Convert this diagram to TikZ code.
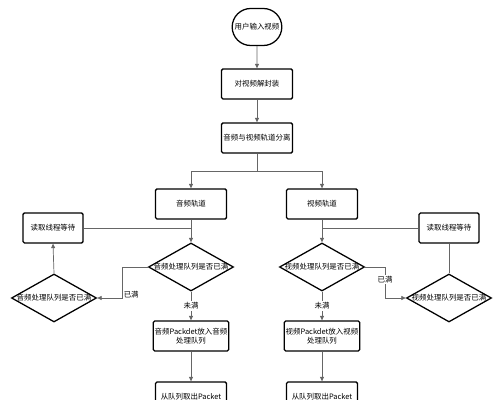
\documentclass[tikz,border=0pt]{standalone}
\usepackage{fontspec}
\setmainfont{Noto Sans CJK SC}
\usetikzlibrary{
  arrows.meta,      % 三角箭头
  shapes.geometric, % 菱形判断框
  shapes.misc       % 圆角起止框
}

\begin{document}
\begin{tikzpicture}[x=0.025cm, y=-0.025cm,
  >={Triangle[length=3.2pt, width=2.8pt]},
  font=\fontsize{5.3}{6.6}\selectfont,
  box/.style={draw, line width=0.9pt, rounded corners=1pt, align=center,
    minimum width=1.775cm, minimum height=0.75cm, inner sep=1pt},
  waitbox/.style={box, minimum width=1.5cm},
  terminal/.style={draw, line width=0.9pt, rounded rectangle,
    minimum width=1.475cm, minimum height=0.925cm},
  decision/.style={draw, line width=0.9pt, diamond, inner sep=0pt,
    minimum width=2.125cm, minimum height=1.2cm},
  flow/.style={draw=black!60, line width=0.5pt},
  lab/.style={fill=white, inner sep=0.8pt}]

  \clip (0,0) rectangle (500,400);

  % =========== 主干：输入与解封装 ===========
  \node[terminal] (start) at (257,27) {用户输入视频};
  \node[box] (demux) at (257,84) {对视频解封装};
  \node[box] (split) at (257,138) {音频与视频轨道分离};
  \draw[flow,->] (start) -- (demux);
  \draw[flow,->] (demux) -- (split);
  % 分叉点
  \coordinate (fork) at (257,171);
  \draw[flow] (split) -- (fork);

  % =========== 音频分支 ===========
  \node[box] (audio) at (191,204) {音频轨道};
  \node[waitbox] (waitA) at (53,228) {读取线程等待};
  \node[decision, label={center:音频处理队列是否已满}] (decA) at (191,267) {};
  \node[decision, label={center:音频处理队列是否已满}] (fullA) at (54,298) {};
  \node[box] (pushA) at (191,336) {音频Packdet放入音频\\处理队列};
  \node[box] (popA) at (191,397) {从队列取出Packet};
  \draw[flow,->] (fork) -| (audio);
  \draw[flow,->] (audio) -- (decA);
  \draw[flow] (waitA.east) -- (waitA.east -| decA.north);
  % 已满：转入左侧判断
  \draw[flow,->] (decA.west) -- (122,267) |- node[pos=0.45, right, inner sep=1pt] {已满} (fullA.east);
  \draw[flow,->] (fullA.north) -- (waitA.south);
  % 未满：放入队列
  \draw[flow,->] (decA.south) -- node[lab] {未满} (pushA.north);
  \draw[flow,->] (pushA) -- (popA);

  % =========== 视频分支 ===========
  \node[box] (video) at (322,204) {视频轨道};
  \node[waitbox] (waitV) at (449,228) {读取线程等待};
  \node[decision, label={center:视频处理队列是否已满}] (decV) at (322,267) {};
  \node[decision, label={center:视频处理队列是否已满}] (fullV) at (449,298) {};
  \node[box] (pushV) at (322,336) {视频Packdet放入视频\\处理队列};
  \node[box] (popV) at (322,397) {从队列取出Packet};
  \draw[flow,->] (fork) -| (video);
  \draw[flow,->] (video) -- (decV);
  \draw[flow] (waitV.west) -- (waitV.west -| decV.north);
  % 已满：转入右侧判断
  \draw[flow,->] (decV.east) -- (385,267) |- node[pos=0.2, lab] {已满} (fullV.west);
  \draw[flow] (fullV.north) -- (waitV.south);
  % 未满：放入队列
  \draw[flow,->] (decV.south) -- node[lab] {未满} (pushV.north);
  \draw[flow,->] (pushV) -- (popV);

\end{tikzpicture}
\end{document}
